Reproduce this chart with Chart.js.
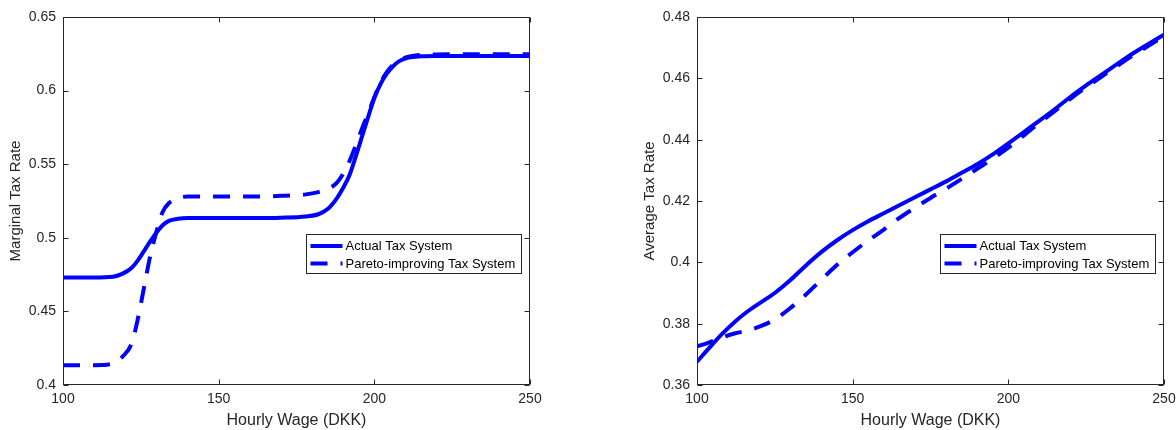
<!DOCTYPE html>
<html>
<head>
<meta charset="utf-8">
<script src="https://cdn.jsdelivr.net/npm/chart.js@4.4.0/dist/chart.umd.min.js"></script>
<style>
  html, body { margin: 0; padding: 0; background: #fff; overflow: hidden; }
  #wrap { position: relative; width: 1176px; height: 430px; overflow: hidden; }
  .panel { position: absolute; top: 0; height: 430px; }
</style>
</head>
<body>
<div id="wrap">
  <div class="panel" style="left:0;width:588px"><canvas id="mtrChart" width="588" height="430"></canvas></div>
  <div class="panel" style="left:588px;width:600px"><canvas id="atrChart" width="600" height="430"></canvas></div>
</div>
<script>
// hourly wage grid and tick labels
var wageTicks = [100, 150, 200, 250];

// left panel: marginal tax rate
var mtrWage = [100, 110, 116, 119, 122, 124, 126, 128, 130, 132, 134, 137, 140, 150, 160, 170, 178, 182, 185, 188,
               190, 192, 194, 196, 198, 200, 202, 204, 206, 208, 211, 215, 220, 230, 250];
var mtrActual = [0.473, 0.473, 0.4735, 0.4755, 0.4795, 0.4845, 0.491, 0.4975, 0.5035, 0.5085, 0.5115, 0.513, 0.5135,
                 0.5135, 0.5135, 0.5137, 0.5145, 0.516, 0.5195, 0.527, 0.534, 0.5425, 0.555, 0.5685, 0.582, 0.595,
                 0.6045, 0.6115, 0.6165, 0.62, 0.6225, 0.6233, 0.6235, 0.6235, 0.6235];
var mtrPareto = [0.4135, 0.4135, 0.4145, 0.419, 0.428, 0.4445, 0.466, 0.4875, 0.504, 0.5175, 0.5235, 0.527, 0.528,
                 0.528, 0.528, 0.5285, 0.5295, 0.531, 0.533, 0.5375, 0.5435, 0.552, 0.5625, 0.574, 0.5845, 0.5955,
                 0.6055, 0.6125, 0.6175, 0.6205, 0.623, 0.6242, 0.6245, 0.6247, 0.6247];
var mtrTicks = [0.4, 0.45, 0.5, 0.55, 0.6, 0.65];

// right panel: average tax rate
var atrWage = [100, 104, 108, 112, 116, 120, 125, 130, 135, 140, 145, 150, 155, 160, 165, 170, 175, 180, 185, 190,
               195, 200, 205, 210, 215, 220, 225, 230, 235, 240, 245, 250];
var atrActual = [0.3676, 0.3722, 0.3766, 0.3805, 0.3838, 0.3866, 0.39, 0.3942, 0.399, 0.4034, 0.4072, 0.4105, 0.4134,
                 0.416, 0.4186, 0.4212, 0.4238, 0.4264, 0.4292, 0.432, 0.4352, 0.4388, 0.4425, 0.4462, 0.45, 0.454,
                 0.4577, 0.4612, 0.4647, 0.4681, 0.4712, 0.4742];
var atrPareto = [0.3726, 0.3739, 0.3755, 0.3768, 0.3777, 0.379, 0.3814, 0.3851, 0.3895, 0.3944, 0.3992, 0.4033, 0.4071,
                 0.4107, 0.4145, 0.4178, 0.421, 0.424, 0.4272, 0.4305, 0.4338, 0.4374, 0.4414, 0.4455, 0.4494, 0.4534,
                 0.4571, 0.4606, 0.4641, 0.4675, 0.4706, 0.4737];
var atrTicks = [0.36, 0.38, 0.4, 0.42, 0.44, 0.46, 0.48];

var seriesNames = ['Actual Tax System', 'Pareto-improving Tax System'];
var xTitle = 'Hourly Wage (DKK)';

var FONT = '"Liberation Sans", Arial, Helvetica, sans-serif';
var AXIS = '#262626';
var BLUE = '#0000ff';
var DASH = [17, 13];

Chart.defaults.font.family = FONT;

function toPoints(xs, ys) {
    return xs.map(function (x, i) { return { x: x, y: ys[i] }; });
}

function fmt(v) {
    return String(Number(v.toFixed(3)));
}

// matlab-like box with inward ticks on all sides
var boxPlugin = {
    id: 'matlabBox',
    afterDraw: function (chart) {
        var ctx = chart.ctx, a = chart.chartArea;
        var xs = chart.scales.x, ys = chart.scales.y;
        var L = Math.round(a.left) + 0.5, R = Math.round(a.right) - 0.5;
        var T = Math.round(a.top) + 0.5, B = Math.round(a.bottom) - 0.5;
        var len = 5;
        ctx.save();
        ctx.strokeStyle = AXIS;
        ctx.lineWidth = 1;
        ctx.strokeRect(L, T, R - L, B - T);
        ctx.beginPath();
        xs.ticks.forEach(function (t) {
            var px = Math.round(xs.getPixelForValue(t.value)) + 0.5;
            ctx.moveTo(px, B); ctx.lineTo(px, B - len);
            ctx.moveTo(px, T); ctx.lineTo(px, T + len);
        });
        ys.ticks.forEach(function (t) {
            var py = Math.round(ys.getPixelForValue(t.value)) + 0.5;
            ctx.moveTo(L, py); ctx.lineTo(L + len, py);
            ctx.moveTo(R, py); ctx.lineTo(R - len, py);
        });
        ctx.stroke();
        ctx.restore();
    }
};

// legend box inside the axes, east side
var legendPlugin = {
    id: 'insideLegend',
    afterDraw: function (chart) {
        var ctx = chart.ctx, a = chart.chartArea;
        var sets = chart.data.datasets;
        ctx.save();
        ctx.font = '13px ' + FONT;
        var tw = 0;
        sets.forEach(function (d) { tw = Math.max(tw, ctx.measureText(d.label).width); });
        var w = Math.round(39 + tw + 6), h = 39;
        var x0 = Math.round(a.right - 9 - w) + 0.5, y0 = 234.5;
        ctx.fillStyle = '#fff';
        ctx.fillRect(x0, y0, w, h);
        ctx.strokeStyle = AXIS;
        ctx.lineWidth = 1;
        ctx.strokeRect(x0, y0, w, h);
        sets.forEach(function (d, i) {
            var yy = y0 + 11.5 + i * 17.5;
            ctx.strokeStyle = d.borderColor;
            ctx.lineWidth = d.borderWidth;
            ctx.setLineDash(d.borderDash || []);
            ctx.beginPath();
            ctx.moveTo(x0 + 4, yy);
            ctx.lineTo(x0 + 36, yy);
            ctx.stroke();
            ctx.setLineDash([]);
            ctx.fillStyle = '#000';
            ctx.textBaseline = 'middle';
            ctx.textAlign = 'left';
            ctx.fillText(d.label, x0 + 39, yy + 0.5);
        });
        ctx.restore();
    }
};

function makePanel(canvasId, xs, actual, pareto, yTicks, yTitle, padLeft, padRight) {
    var ctx = document.getElementById(canvasId).getContext('2d');
    return new Chart(ctx, {
        type: 'line',
        data: {
            datasets: [{
                label: seriesNames[0],
                data: toPoints(xs, actual),
                borderColor: BLUE,
                borderWidth: 4,
                borderDash: [],
                pointRadius: 0,
                fill: false,
                cubicInterpolationMode: 'monotone'
            }, {
                label: seriesNames[1],
                data: toPoints(xs, pareto),
                borderColor: BLUE,
                borderWidth: 4,
                borderDash: DASH,
                pointRadius: 0,
                fill: false,
                cubicInterpolationMode: 'monotone'
            }]
        },
        options: {
            responsive: false,
            animation: false,
            events: [],
            layout: { padding: { left: padLeft, right: padRight, top: 17, bottom: 0 } },
            plugins: { legend: { display: false }, tooltip: { enabled: false } },
            scales: {
                x: {
                    type: 'linear',
                    min: 100, max: 250,
                    afterBuildTicks: function (s) { s.ticks = wageTicks.map(function (v) { return { value: v }; }); },
                    afterFit: function (s) { s.height = 45; },
                    grid: { display: false, drawTicks: false },
                    border: { display: false },
                    ticks: { color: AXIS, font: { size: 14 }, padding: 6, maxRotation: 0, autoSkip: false },
                    title: { display: true, text: xTitle, color: AXIS, font: { size: 16 }, padding: { top: 0, bottom: 0 } }
                },
                y: {
                    type: 'linear',
                    min: yTicks[0], max: yTicks[yTicks.length - 1],
                    afterBuildTicks: function (s) { s.ticks = yTicks.map(function (v) { return { value: v }; }); },
                    afterFit: function (s) { s.width = 63; },
                    grid: { display: false, drawTicks: false },
                    border: { display: false },
                    ticks: { color: AXIS, font: { size: 14 }, padding: 7, callback: function (v) { return fmt(v); } },
                    title: { display: true, text: yTitle, color: AXIS, font: { size: 15 }, padding: { top: 7, bottom: 0 } }
                }
            }
        },
        plugins: [boxPlugin, legendPlugin]
    });
}

makePanel('mtrChart', mtrWage, mtrActual, mtrPareto, mtrTicks, 'Marginal Tax Rate', 0, 58);
makePanel('atrChart', atrWage, atrActual, atrPareto, atrTicks, 'Average Tax Rate', 46, 24);
</script>
</body>
</html>
